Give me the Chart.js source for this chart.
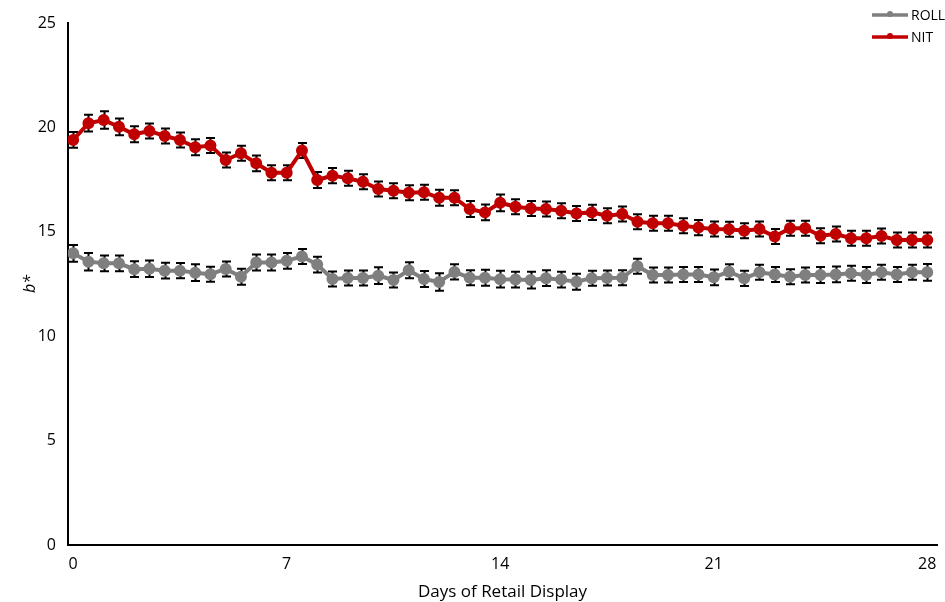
<!DOCTYPE html>
<html lang="en">
<head>
<meta charset="UTF-8">
<title>b* over retail display</title>
<script src="https://cdn.jsdelivr.net/npm/chart.js"></script>
<style>
    html, body { margin: 0; padding: 0; background: #fff; }
    #wrap { position: relative; width: 945px; height: 602px; }
</style>
</head>
<body>
<div id="wrap"><canvas id="bChart" width="945" height="602"></canvas></div>
<script>
// sampling days (every half day)
var days = [0, 0.5, 1, 1.5, 2, 2.5, 3, 3.5, 4, 4.5, 5, 5.5, 6, 6.5, 7, 7.5, 8, 8.5, 9, 9.5,
    10, 10.5, 11, 11.5, 12, 12.5, 13, 13.5, 14, 14.5, 15, 15.5, 16, 16.5, 17, 17.5, 18, 18.5, 19, 19.5,
    20, 20.5, 21, 21.5, 22, 22.5, 23, 23.5, 24, 24.5, 25, 25.5, 26, 26.5, 27, 27.5, 28];
var xTicks = [0, 7, 14, 21, 28];

var rollVals = [13.97, 13.57, 13.49, 13.49, 13.21, 13.23, 13.14, 13.14, 13.04, 12.97, 13.22, 12.85, 13.53, 13.53, 13.61, 13.82, 13.43,
    12.74, 12.79, 12.79, 12.90, 12.69, 13.16, 12.74, 12.60, 13.08, 12.80, 12.80, 12.73, 12.71, 12.69, 12.78, 12.71, 12.61,
    12.78, 12.79, 12.80, 13.35, 12.93, 12.93, 12.96, 12.96, 12.82, 13.09, 12.77, 13.06, 12.96, 12.85, 12.93, 12.93,
    12.96, 13.01, 12.93, 13.06, 12.96, 13.06, 13.06];
var rollErr = [0.40, 0.42, 0.38, 0.38, 0.38, 0.40, 0.38, 0.36, 0.40, 0.36, 0.36, 0.38, 0.38, 0.38, 0.38, 0.36, 0.38,
    0.36, 0.36, 0.36, 0.40, 0.36, 0.38, 0.38, 0.42, 0.36, 0.36, 0.38, 0.40, 0.38, 0.40, 0.38, 0.38, 0.38,
    0.36, 0.36, 0.36, 0.36, 0.36, 0.36, 0.36, 0.36, 0.38, 0.36, 0.36, 0.36, 0.36, 0.36, 0.36, 0.38,
    0.38, 0.36, 0.38, 0.36, 0.36, 0.36, 0.40];

var nitVals = [19.40, 20.20, 20.35, 20.03, 19.67, 19.83, 19.59, 19.40, 19.05, 19.13, 18.44, 18.76, 18.28, 17.83, 17.83, 18.89, 17.48,
    17.69, 17.56, 17.40, 17.05, 16.97, 16.87, 16.89, 16.63, 16.63, 16.09, 15.93, 16.39, 16.20, 16.12, 16.09, 16.01, 15.88,
    15.93, 15.77, 15.85, 15.48, 15.41, 15.41, 15.29, 15.20, 15.13, 15.12, 15.05, 15.13, 14.77, 15.17, 15.17, 14.81,
    14.89, 14.69, 14.69, 14.80, 14.61, 14.61, 14.61];
var nitErr = [0.38, 0.40, 0.42, 0.40, 0.38, 0.36, 0.36, 0.36, 0.38, 0.36, 0.36, 0.36, 0.38, 0.36, 0.36, 0.36, 0.38,
    0.36, 0.36, 0.36, 0.36, 0.36, 0.36, 0.36, 0.38, 0.36, 0.38, 0.38, 0.40, 0.36, 0.36, 0.36, 0.36, 0.36,
    0.36, 0.36, 0.36, 0.36, 0.36, 0.36, 0.36, 0.36, 0.36, 0.36, 0.36, 0.36, 0.36, 0.36, 0.36, 0.36,
    0.36, 0.36, 0.36, 0.36, 0.36, 0.36, 0.36];

var FONT = "'Open Sans', 'Noto Sans', sans-serif";

function toPoints(vals) {
    return vals.map(function (v, i) { return { x: days[i], y: v }; });
}

// error bars drawn from the scales, behind the lines
var errorBars = {
    id: 'errorBars',
    beforeDatasetsDraw: function (chart) {
        var ctx = chart.ctx;
        var xs = chart.scales.x, ys = chart.scales.y;
        ctx.save();
        ctx.strokeStyle = '#000';
        ctx.lineWidth = 2;
        chart.data.datasets.forEach(function (ds) {
            ds.data.forEach(function (p, i) {
                var e = ds.errors[i];
                var px = Math.round(xs.getPixelForValue(p.x)) + 0.5;
                var top = ys.getPixelForValue(p.y + e);
                var bot = ys.getPixelForValue(p.y - e);
                ctx.beginPath();
                ctx.moveTo(px, top); ctx.lineTo(px, bot);
                ctx.moveTo(px - 4.5, top); ctx.lineTo(px + 4.5, top);
                ctx.moveTo(px - 4.5, bot); ctx.lineTo(px + 4.5, bot);
                ctx.stroke();
            });
        });
        ctx.restore();
    }
};

// top-right legend like the Excel one: line with a dot, then the name
var cornerLegend = {
    id: 'cornerLegend',
    afterDraw: function (chart) {
        var ctx = chart.ctx;
        ctx.save();
        ctx.font = '14px ' + FONT;
        ctx.textBaseline = 'middle';
        chart.data.datasets.forEach(function (ds, i) {
            var y = 15 + i * 22;
            ctx.strokeStyle = ds.borderColor;
            ctx.lineWidth = 3.5;
            ctx.beginPath(); ctx.moveTo(872, y); ctx.lineTo(908, y); ctx.stroke();
            ctx.fillStyle = ds.borderColor;
            ctx.beginPath(); ctx.arc(890, y - 1, 3, 0, Math.PI * 2); ctx.fill();
            ctx.fillStyle = '#000';
            ctx.fillText(ds.label, 911, y + 1);
        });
        ctx.restore();
    }
};

var ctx = document.getElementById('bChart').getContext('2d');
var bChart = new Chart(ctx, {
    type: 'line',
    data: {
        datasets: [{
            label: 'ROLL',
            data: toPoints(rollVals),
            errors: rollErr,
            borderColor: '#7F7F7F',
            backgroundColor: '#7F7F7F',
            borderWidth: 4,
            pointRadius: 4,
            pointHoverRadius: 4,
            tension: 0
        }, {
            label: 'NIT',
            data: toPoints(nitVals),
            errors: nitErr,
            borderColor: '#C00000',
            backgroundColor: '#C00000',
            borderWidth: 4,
            pointRadius: 4,
            pointHoverRadius: 4,
            tension: 0
        }]
    },
    plugins: [errorBars, cornerLegend],
    options: {
        responsive: false,
        animation: false,
        layout: { padding: { top: 23, right: 0, bottom: 0, left: 13 } },
        plugins: {
            tooltip: { enabled: false },
            legend: { display: false }
        },
        scales: {
            x: {
                type: 'linear',
                min: -0.17,
                max: 28.32,
                afterBuildTicks: function (axis) {
                    axis.ticks = xTicks.map(function (v) { return { value: v }; });
                },
                afterFit: function (axis) {
                    axis.height = 57;
                    axis.paddingLeft = 0;
                    axis.paddingRight = 0;
                },
                grid: { display: false, drawTicks: false },
                border: { color: '#000', width: 2 },
                ticks: { color: '#000', font: { family: FONT, size: 16 }, padding: 10, maxRotation: 0 },
                title: { display: true, text: 'Days of Retail Display', color: '#000', font: { family: FONT, size: 17 }, padding: { top: 4, bottom: 0 } }
            },
            y: {
                min: 0,
                max: 25,
                afterFit: function (axis) {
                    axis.width = 55;
                    axis.paddingTop = 0;
                    axis.paddingBottom = 0;
                },
                ticks: { stepSize: 5, color: '#000', font: { family: FONT, size: 16 }, padding: 12 },
                grid: { display: false, drawTicks: false },
                border: { color: '#000', width: 2 },
                title: { display: true, text: 'b*', color: '#000', font: { family: FONT, size: 16, style: 'italic' }, padding: { top: 8, bottom: 0 } }
            }
        }
    }
});
</script>
</body>
</html>
